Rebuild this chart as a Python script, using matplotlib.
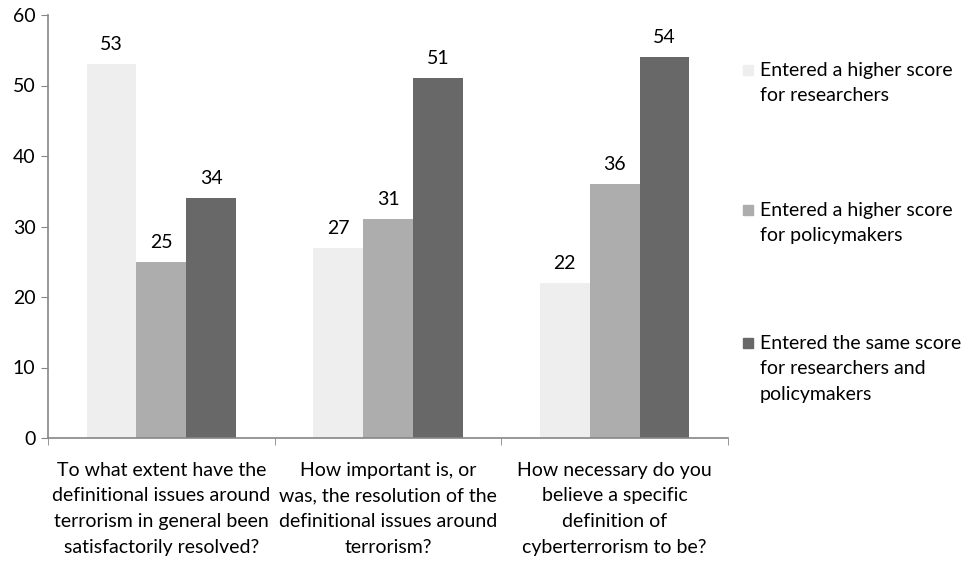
import matplotlib
matplotlib.use('Agg')
import matplotlib.pyplot as plt
from matplotlib.patches import Rectangle
import numpy as np

plt.rcParams['font.family'] = ['Lato', 'DejaVu Sans']

categories = ['To what extent have the\ndefinitional issues around\nterrorism in general been\nsatisfactorily resolved?',
              'How important is, or\nwas, the resolution of the\ndefinitional issues around\nterrorism?',
              'How necessary do you\nbelieve a specific\ndefinition of\ncyberterrorism to be?']
series_names = ['Entered a higher score\nfor researchers',
                'Entered a higher score\nfor policymakers',
                'Entered the same score\nfor researchers and\npolicymakers']
higher_researchers = [53, 27, 22]
higher_policymakers = [25, 31, 36]
same_score = [34, 51, 54]
colors = ['#EEEEEE', '#ADADAD', '#686868']

fig = plt.figure(figsize=(9.66, 5.62), dpi=100)
ax = fig.add_axes([48 / 966, 1 - 438 / 562, 680 / 966, 423 / 562])

ind = np.arange(len(categories))
width = 0.22
values = [higher_researchers, higher_policymakers, same_score]
for i, vals in enumerate(values):
    bars = ax.bar(ind + (i - 1) * width, vals, width, color=colors[i], edgecolor='none')
    for b, v in zip(bars, vals):
        ax.annotate(str(v), (b.get_x() + b.get_width() / 2, v), xytext=(0, 8),
                    textcoords='offset points', ha='center', va='bottom', fontsize=14)

ax.set_xlim(-0.5, len(categories) - 0.5)
ax.set_ylim(0, 60)
ax.set_yticks(range(0, 61, 10))
ax.set_xticks(ind)
ax.set_xticklabels(categories, fontsize=14, linespacing=1.63)
ax.set_xticks(np.arange(-0.5, len(categories), 1), minor=True)
ax.tick_params(axis='x', which='major', length=0, pad=17)
ax.tick_params(axis='x', which='minor', length=5, color='#868686')
ax.tick_params(axis='y', length=5, color='#868686', labelsize=14, pad=4)

for s in ['top', 'right']:
    ax.spines[s].set_visible(False)
for s in ['left', 'bottom']:
    ax.spines[s].set_color('#868686')
    ax.spines[s].set_linewidth(1.2)

# legend drawn by hand so the square sits on the first line
leg_y = [70, 210, 343]
for name, c, y in zip(series_names, colors, leg_y):
    fig.patches.append(Rectangle((743 / 966, 1 - (y + 5) / 562), 10 / 966, 10 / 562,
                                 transform=fig.transFigure, color=c, figure=fig))
    fig.text(760 / 966, 1 - (y - 8) / 562, name, fontsize=14, va='top', ha='left',
             linespacing=1.6)

fig.savefig('out.png', dpi=100)
